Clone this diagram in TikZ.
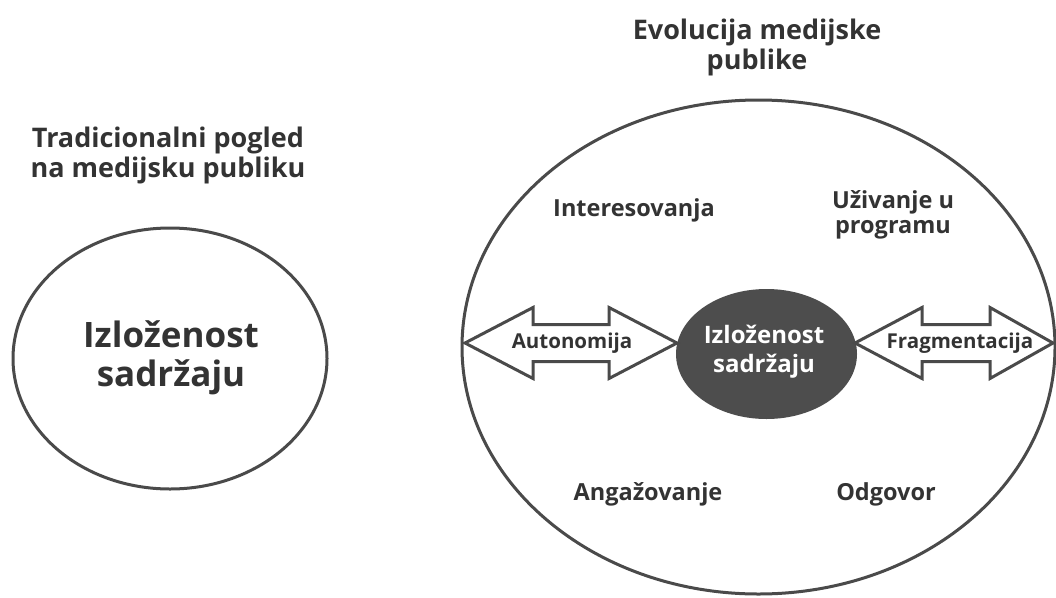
\documentclass[tikz,border=0pt]{standalone}
\usepackage{fontspec}
\setmainfont{Open Sans}
\begin{document}
\begin{tikzpicture}[x=1pt,y=-1pt,
  line/.style={draw=lineg,line width=3pt},
  lbl/.style={text=txtg,font=\bfseries\fontsize{23.5}{25}\selectfont,align=center,inner sep=0pt},
  albl/.style={text=txtg,font=\bfseries\fontsize{20.5}{24}\selectfont,align=center,inner sep=0pt},
  clbl/.style={text=white,font=\bfseries\fontsize{24}{29}\selectfont,align=center,inner sep=0pt},
  ttl/.style={text=txtg,font=\bfseries\fontsize{27}{30}\selectfont,align=center,inner sep=0pt},
  big/.style={text=txtg,font=\bfseries\fontsize{35}{39}\selectfont,align=center,inner sep=0pt}]
\definecolor{lineg}{HTML}{4A4A4A}
\definecolor{txtg}{HTML}{333333}
\definecolor{darkf}{HTML}{4D4D4D}
\useasboundingbox[fill=white] (0,0) rectangle (1056,597);

% titles
\node[ttl] (t1) at (168,155) {Tradicionalni pogled\\na medijsku publiku};
\node[ttl] (t2) at (757,47) {Evolucija medijske\\publike};

% left ellipse
\draw[line] (170,358.5) ellipse [x radius=157, y radius=130.5];
\node[big] (e1) at (171,358) {Izloženost\\sadržaju};

% big ellipse
\draw[line] (758.5,347) ellipse [x radius=296.5, y radius=247];

% inner dark ellipse
\fill[darkf] (766.5,354) ellipse [x radius=90.5, y radius=65];
\node[clbl] (c) at (764,352) {Izloženost\\sadržaju};

% double arrows
\draw[line,fill=white,line join=miter] (465,343) -- (533,307.5) -- (533,324.5) -- (609,324.5) -- (609,307.5) -- (677,343)
  -- (609,378.5) -- (609,361.5) -- (533,361.5) -- (533,378.5) -- cycle;
\node[albl] (a1) at (572,343) {Autonomija};
\draw[line,fill=white,line join=miter] (855,343) -- (922,307.5) -- (922,324.5) -- (990,324.5) -- (990,307.5) -- (1053,343)
  -- (990,378.5) -- (990,361.5) -- (922,361.5) -- (922,378.5) -- cycle;
\node[albl] (a2) at (960,343) {Fragmentacija};

% labels
\node[lbl] (l1) at (634,210) {Interesovanja};
\node[lbl] (l2) at (893,214.5) {Uživanje u\\programu};
\node[lbl] (l3) at (648,494) {Angažovanje};
\node[lbl] (l4) at (886,494) {Odgovor};
\end{tikzpicture}
\end{document}
